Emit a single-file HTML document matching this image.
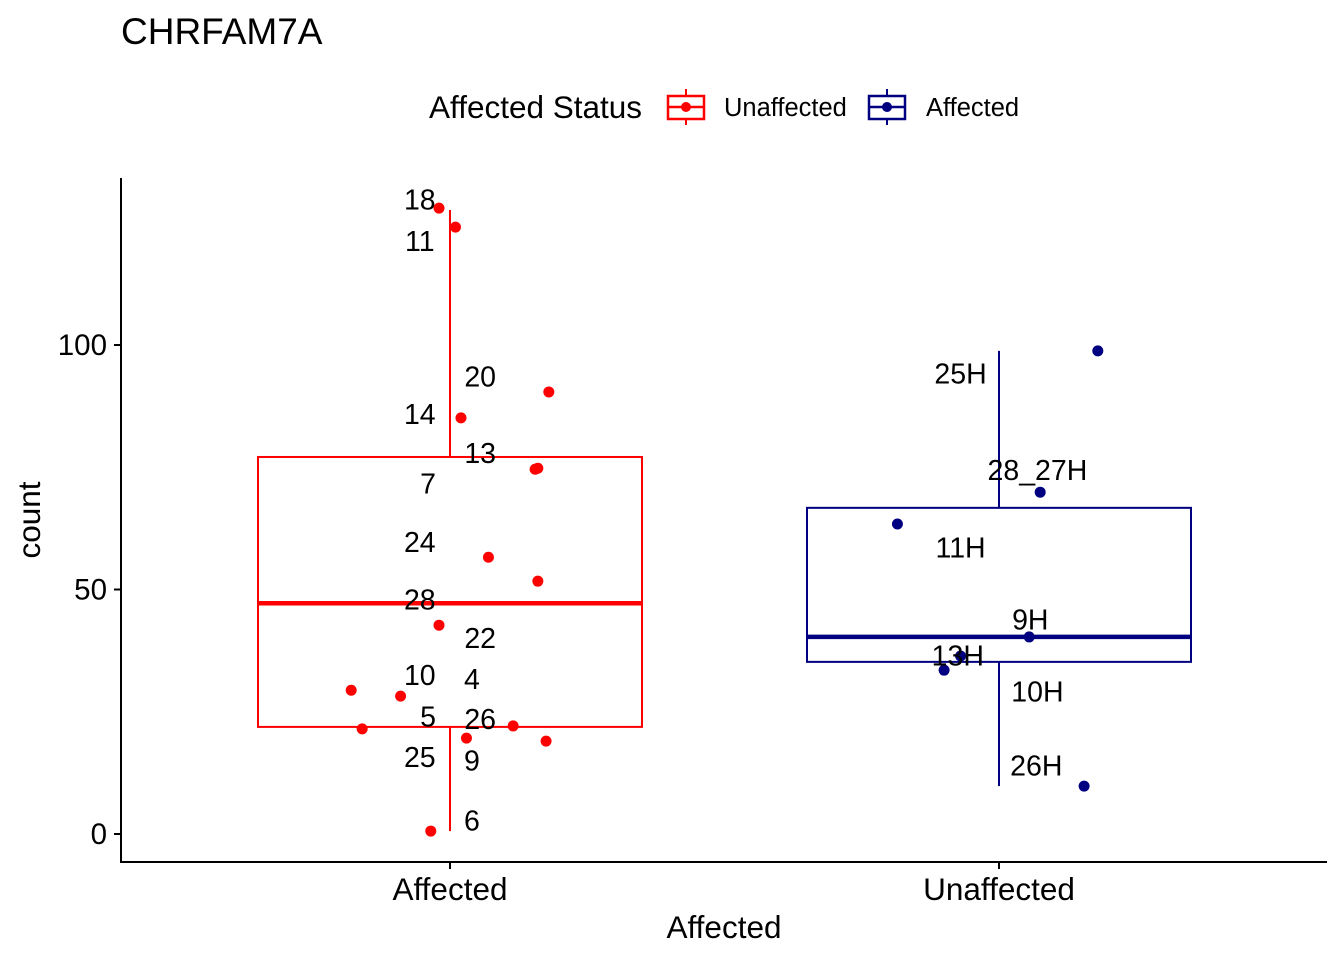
<!DOCTYPE html>
<html><head><meta charset="utf-8"><style>
html,body{margin:0;padding:0;background:#fff;}
svg text{font-family:"Liberation Sans",Arial,sans-serif;}
</style></head><body>
<svg id="chart" width="1344" height="960" xmlns="http://www.w3.org/2000/svg">
<text x="121" y="44" font-size="37">CHRFAM7A</text>
<g>
<text x="429" y="118" font-size="31.5">Affected Status</text>
<g>
<line x1="686" y1="89" x2="686" y2="125" stroke="#ff0000" stroke-width="2"/>
<rect x="668" y="96" width="36" height="23" fill="#fff" stroke="#ff0000" stroke-width="2.5"/>
<line x1="668" y1="107" x2="704" y2="107" stroke="#ff0000" stroke-width="2.5"/>
<circle cx="686" cy="107" r="5" fill="#ff0000"/>
<text x="724" y="116" font-size="25.5">Unaffected</text></g>
<g>
<line x1="887" y1="89" x2="887" y2="125" stroke="#000080" stroke-width="2"/>
<rect x="869" y="96" width="36" height="23" fill="#fff" stroke="#000080" stroke-width="2.5"/>
<line x1="869" y1="107" x2="905" y2="107" stroke="#000080" stroke-width="2.5"/>
<circle cx="887" cy="107" r="5" fill="#000080"/>
<text x="926" y="116" font-size="25.5">Affected</text></g>
</g>
<g id="plot"></g>
</svg>
<script>
const categories=["Affected","Unaffected"];
const colors=["#ff0000","#000080"];
const boxLow=[0.6,9.8];
const boxQ1=[21.9,35.2];
const boxMedian=[47.2,40.3];
const boxQ3=[77.1,66.7];
const boxHigh=[127.6,98.8];
const redValues=[128.0,124.1,90.4,85.1,74.8,74.6,56.6,51.7,42.7,29.4,28.2,21.5,22.1,19.6,19.0,0.6];
const redJitter=[-0.02,0.01,0.18,0.02,0.16,0.155,0.07,0.16,-0.02,-0.18,-0.09,-0.16,0.115,0.03,0.175,-0.035];
const blueValues=[98.8,69.9,63.4,40.3,36.4,33.5,9.8];
const blueJitter=[0.18,0.075,-0.185,0.055,-0.07,-0.1,0.155];
const redLabels=["18","11","20","14","13","7","24","28","22","10","4","5","26","25","9","6"];
const redLabelVals=[128.5,120.0,92.3,84.7,76.7,70.5,58.5,46.7,38.9,31.3,30.5,22.8,22.3,14.5,13.8,1.5];
const redLabelDx=[-0.055,-0.055,0.055,-0.055,0.055,-0.04,-0.055,-0.055,0.055,-0.055,0.04,-0.04,0.055,-0.055,0.04,0.04];
const blueLabels=["25H","28_27H","11H","9H","13H","10H","26H"];
const blueLabelVals=[92.9,73.2,57.4,42.6,35.3,27.9,12.8];
const blueLabelDx=[-0.07,0.07,-0.07,0.057,-0.075,0.07,0.068];

const y0=834,pxPerUnit=4.89;
const yS=v=>y0-v*pxPerUnit;
const catX=[450,999],band=549;
const xS=(i,d)=>catX[i]+d*band;
const NS="http://www.w3.org/2000/svg";
const plot=document.getElementById('plot');
function mk(tag,attrs,parent){const e=document.createElementNS(NS,tag);for(const k in attrs)e.setAttribute(k,attrs[k]);(parent||plot).appendChild(e);return e;}

const yAxis=mk('line',{x1:121,y1:178,x2:121,y2:863,stroke:'#000','stroke-width':2});


const xAxis=mk('line',{x1:120,y1:862,x2:1327,y2:862,stroke:'#000','stroke-width':2});


const yTicks=[0,50,100];
yTicks.forEach(t=>{
 mk('line',{x1:114,y1:yS(t),x2:121,y2:yS(t),stroke:'#000','stroke-width':2});
 const tx=mk('text',{x:107,y:yS(t)+10,'font-size':29.5,'text-anchor':'end',fill:'#000'});
 tx.textContent=t;
 
 
});
categories.forEach((c,i)=>{
 mk('line',{x1:catX[i],y1:862,x2:catX[i],y2:869,stroke:'#000','stroke-width':2});
 const tx=mk('text',{x:catX[i],y:900,'font-size':31.5,'text-anchor':'middle'});
 tx.textContent=c;
 
 
});
const xt=mk('text',{x:724,y:938,'font-size':31.5,'text-anchor':'middle'});xt.textContent='Affected';


const yt=mk('text',{x:40,y:520,'font-size':31.5,'text-anchor':'middle',transform:'rotate(-90 40 520)'});yt.textContent='count';



categories.forEach((c,i)=>{
 const g=mk('g',{});
 
 
 const col=colors[i],half=192;
 mk('line',{x1:catX[i],y1:yS(boxHigh[i]),x2:catX[i],y2:yS(boxQ3[i]),stroke:col,'stroke-width':2},g);
 mk('line',{x1:catX[i],y1:yS(boxQ1[i]),x2:catX[i],y2:yS(boxLow[i]),stroke:col,'stroke-width':2},g);
 mk('rect',{x:catX[i]-half,y:yS(boxQ3[i]),width:half*2,height:yS(boxQ1[i])-yS(boxQ3[i]),fill:'none',stroke:col,'stroke-width':2},g);
 mk('line',{x1:catX[i]-half,y1:yS(boxMedian[i]),x2:catX[i]+half,y2:yS(boxMedian[i]),stroke:col,'stroke-width':4.5},g);
});
function pts(vals,jit,ci,name){
 vals.forEach((v,k)=>{
  const p=mk('circle',{cx:xS(ci,jit[k]),cy:yS(v),r:5.5,fill:colors[ci]});
  
  
 });
}
pts(redValues,redJitter,0,'point-affected');
pts(blueValues,blueJitter,1,'point-unaffected');
function labs(lbls,vals,dx,ci,name){
 lbls.forEach((l,k)=>{
  const t=mk('text',{x:xS(ci,dx[k]),y:yS(vals[k])+4,'font-size':28.5,'text-anchor':'middle'});
  t.textContent=l;
  
  
 });
}
labs(redLabels,redLabelVals,redLabelDx,0,'point-label-affected');
labs(blueLabels,blueLabelVals,blueLabelDx,1,'point-label-unaffected');
</script>
</body></html>
